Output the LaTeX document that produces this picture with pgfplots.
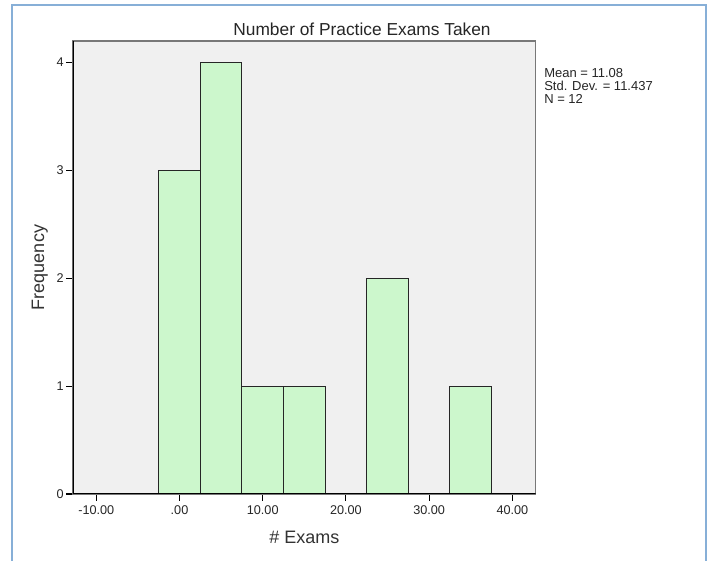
\documentclass[border=0pt]{standalone}
\usepackage{fontspec}
\setmainfont{Liberation Sans}
\usepackage{pgfplots}
\pgfplotsset{compat=1.18}
\definecolor{plotbg}{RGB}{240,240,240}
\definecolor{barfill}{RGB}{204,247,204}
\definecolor{frameblue}{RGB}{135,175,215}
\definecolor{boxgray}{RGB}{120,120,120}
\begin{document}
\begin{tikzpicture}
\useasboundingbox (0,0) rectangle (536.25pt,420.75pt);
\fill[white] (0,0) rectangle (536.25pt,420.75pt);
\draw[frameblue, line width=1.2pt] (9pt,-5pt) rectangle (529.5pt,417pt);
\begin{axis}[
  at={(54.75pt,50.25pt)}, anchor=south west,
  scale only axis, width=347pt, height=339.75pt,
  xmin=-12.8, xmax=42.8, ymin=0, ymax=4.2,
  axis background/.style={fill=plotbg},
  axis line style={draw=boxgray, line width=1pt},
  xtick={-10,0,10,20,30,40},
  xticklabels={-10.00,.00,10.00,20.00,30.00,40.00},
  ytick={0,1,2,3,4},
  tick pos=left, tick align=outside,
  major tick length=5pt,
  tick style={black, line width=0.8pt},
  ticklabel style={font=\fontsize{9.5}{11}\selectfont, text=black!85},
  /pgf/number format/assume math mode=true,
  yticklabel style={xshift=1.5pt},
  xlabel={\# Exams}, ylabel={Frequency},
  label style={font=\fontsize{13.5}{15}\selectfont, text=black!80},
  xlabel style={at={(axis description cs:0.5,-0.095)}, anchor=center},
  ylabel style={at={(axis description cs:-0.072,0.5)}, anchor=center},
]
\addplot[ybar interval, fill=barfill, draw=black!85, line width=0.8pt] coordinates {
  (-2.5,3) (2.5,4) (7.5,1) (12.5,1) (17.5,0) (22.5,2) (27.5,0) (32.5,1) (37.5,1)
};
\draw[black, line width=1pt] (rel axis cs:0,1) -- (rel axis cs:0,0) -- (rel axis cs:1,0);
\end{axis}
\node[font=\fontsize{13}{15}\selectfont, text=black!85] at (271.5pt,399pt) {Number of Practice Exams Taken};
\node[font=\fontsize{9.75}{9.8}\selectfont, text=black!85, align=left, anchor=north west, inner sep=0pt] at (408pt,370pt) {Mean = 11.08\\Std. Dev. = 11.437\\N = 12};
\end{tikzpicture}
\end{document}
